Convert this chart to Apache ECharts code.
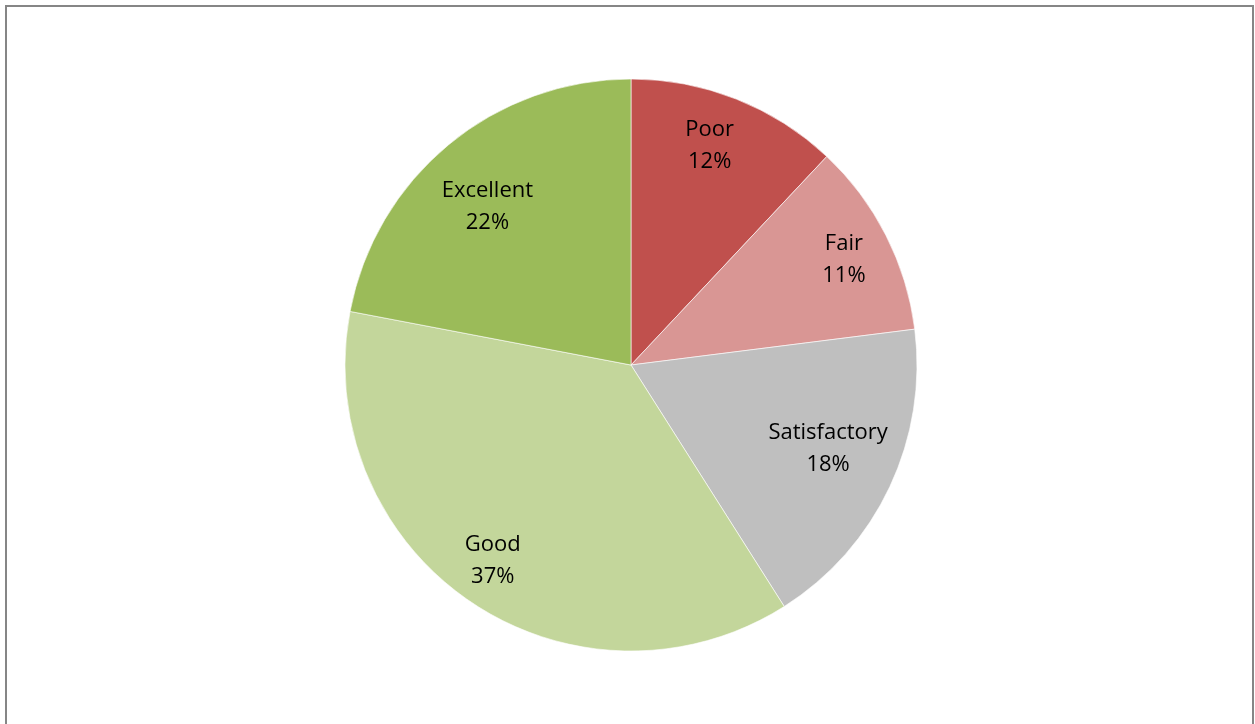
<!DOCTYPE html>
<html>
<head>
<meta charset="utf-8">
<script src="https://cdn.jsdelivr.net/npm/echarts@6/dist/echarts.min.js"></script>
<style>
  html, body { margin: 0; padding: 0; background: #ffffff; }
  #chart { width: 1255px; height: 724px; }
</style>
</head>
<body>
<div id="chart"></div>
<script>
// Rating categories and their share of responses (percent)
const categories = ['Poor', 'Fair', 'Satisfactory', 'Good', 'Excellent'];
const shares = [12, 11, 18, 37, 22];
const sliceColors = ['#C0504D', '#D99694', '#BFBFBF', '#C3D69B', '#9BBB59'];
// small per-slice label nudges (px) for a best-fit style placement
const labelNudge = [[-6, -5], [8, -1], [-11, -14], [-9, 6], [3, 19]];

const pieData = categories.map((name, i) => ({
  name: name,
  value: shares[i],
  itemStyle: { color: sliceColors[i] }
}));

const center = [631, 365];
const outerR = 286;

const chart = echarts.init(document.getElementById('chart'), null, { renderer: 'canvas' });
chart.setOption({
  animation: false,
  backgroundColor: '#ffffff',
  graphic: [{
    type: 'polyline',
    shape: { points: [[6, 730], [6, 6], [1253, 6], [1253, 730]] },
    style: { stroke: '#868686', lineWidth: 2, fill: null },
    silent: true
  }],
  series: [
    {
      // filled slices
      type: 'pie',
      center: center,
      radius: [0, outerR],
      startAngle: 90,
      clockwise: true,
      silent: true,
      itemStyle: { borderColor: 'rgba(255,255,255,0.6)', borderWidth: 1 },
      label: { show: false },
      labelLine: { show: false },
      data: pieData
    },
    {
      // transparent ring carrying the category / percent labels
      type: 'pie',
      center: center,
      radius: [168, outerR],
      startAngle: 90,
      clockwise: true,
      silent: true,
      itemStyle: { color: 'rgba(0,0,0,0)', borderWidth: 0 },
      label: {
        show: true,
        position: 'inside',
        formatter: p => p.name + '\n' + p.value + '%',
        fontFamily: 'Open Sans, Liberation Sans, sans-serif',
        fontSize: 22,
        lineHeight: 32,
        color: '#000000'
      },
      labelLine: { show: false },
      data: categories.map((name, i) => ({
        name: name,
        value: shares[i],
        label: { offset: labelNudge[i] }
      }))
    }
  ]
});
</script>
</body>
</html>
